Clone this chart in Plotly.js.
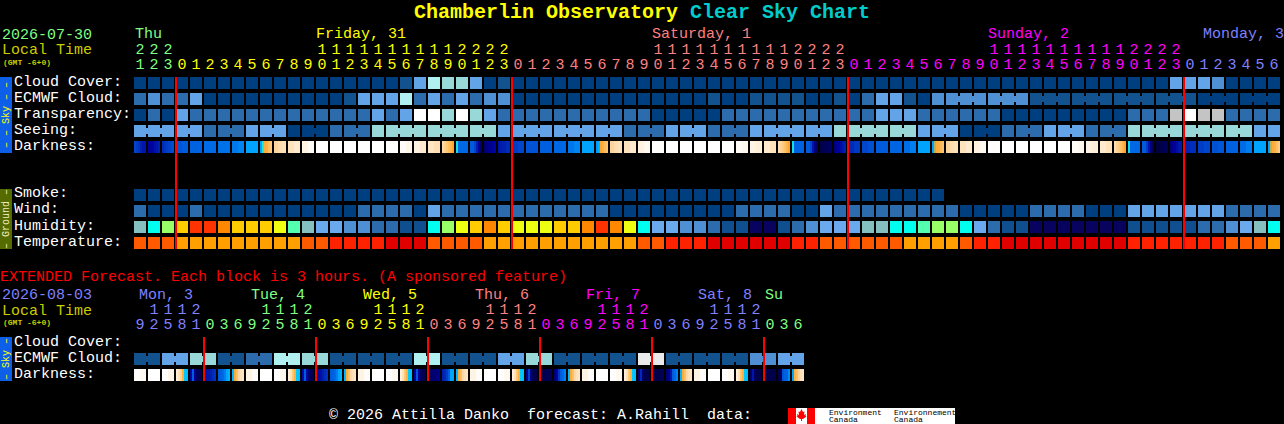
<!DOCTYPE html>
<html><head><meta charset="utf-8">
<script src="https://cdn.plot.ly/plotly-3.0.1.min.js"></script>
<style>html,body{margin:0;padding:0;background:#000;overflow:hidden}#chart{width:1284px;height:424px}</style>
</head><body><div id="chart"></div>
<script>
const FONT = '"Liberation Mono", monospace';

// ---------- main forecast (one block per hour) ----------
const hoursMain = [21,22,23,
  0,1,2,3,4,5,6,7,8,9,10,11,12,13,14,15,16,17,18,19,20,21,22,23,
  0,1,2,3,4,5,6,7,8,9,10,11,12,13,14,15,16,17,18,19,20,21,22,23,
  0,1,2,3,4,5,6,7,8,9,10,11,12,13,14,15,16,17,18,19,20,21,22,23,
  0,1,2,3,4,5,6];
const cloudCover = [
  0,0,0,0,0,0,0,0,0,0, 0,0,0,0,0,0,0,0,0,1, 4,6,5,5,4,0,1,0,0,0,
  0,0,0,0,0,0,0,0,0,0, 0,0,0,0,0,0,0,0,0,0, 0,0,0,0,0,0,0,0,0,0,
  0,0,0,0,0,0,0,0,0,0, 0,0,0,0,4,4,4,3,0,0, 0,0];
const ecmwfCloud = [
  2,3,2,2,4,0,0,0,0,0, 0,0,0,0,0,1,4,4,4,6, 2,4,2,4,2,3,3,0,0,0,
  0,0,0,0,0,0,0,0,0,0, 0,1,0,0,1,1,1,1,0,0, 1,0,2,4,4,1,0,3,3,3,
  3,3,3,3,1,1,1,1,1,1, 1,1,1,1,1,1,0,0,0,0, 0,0];
const transparency = [
  0,2,0,4,2,2,2,2,2,2, 2,2,2,2,2,2,2,4,2,4, 9,9,5,9,5,4,2,2,2,2,
  2,2,2,2,2,2,2,0,0,0, 0,0,2,2,2,2,2,2,2,2, 2,2,2,4,4,4,2,2,2,2,
  2,2,0,0,0,0,0,0,0,0, 0,2,2,2,7,9,7,7,2,2, 2,2];
const seeing = [
  4,4,4,4,4,2,2,2,4,4, 4,0,0,0,2,2,2,5,5,5, 5,5,5,5,5,5,4,4,4,4,
  4,4,4,4,4,2,2,2,4,4, 4,2,2,2,4,4,4,4,4,4, 5,5,5,5,5,5,4,4,4,0,
  0,0,2,2,2,4,4,4,2,2, 2,5,5,5,5,5,5,5,5,5, 4,4];
const smoke = [
  0,0,0,0,0,0,0,0,0,0, 0,0,0,0,0,0,0,0,0,0, 0,0,0,0,0,0,0,0,0,0,
  0,0,0,0,0,0,0,0,0,0, 0,0,0,0,0,0,0,0,0,0, 0,0,0,0,0,0,0,0];
const wind = [
  2,0,0,0,2,0,0,0,0,0, 0,0,0,0,0,0,2,2,2,2, 0,4,2,2,2,2,2,2,2,2,
  2,2,2,2,0,0,0,0,0,0, 0,0,0,2,2,2,2,0,0,4, 2,2,2,2,2,2,2,2,2,0,
  0,0,0,0,2,2,2,2,0,0, 0,4,4,4,4,4,4,4,2,2, 2,2];
const humidity = [
  5,6,8,10,12,12,11,10,10,10, 9,7,5,4,4,3,3,2,2,1, 1,6,8,9,10,11,10,9,9,9,
  10,10,11,12,11,9,6,4,4,3, 3,2,1,1,0,0,1,2,3,4, 4,4,5,5,6,6,7,8,8,6,
  4,2,1,1,0,0,0,0,0,0, 0,1,1,1,1,1,2,2,3,4, 5,6];
const temperature = [
  1,1,1,0,0,0,0,0,0,0, 0,0,1,1,2,2,2,2,3,3, 3,1,1,1,1,0,0,0,0,0,
  0,0,0,0,0,0,1,1,2,2, 2,3,3,3,3,3,3,2,2,1, 1,1,1,1,1,0,0,0,0,1,
  2,2,3,3,3,3,3,3,3,3, 3,2,2,2,2,2,2,2,1,1, 1,0];
// limiting magnitude; a cell holds 1, 2, 3 or 6 samples left to right
const darkness = [
  [4.2,4.4,4.6,5.0,5.2,5.2],[5.6,5.6,5.5,5.3,5.2,5.0],[4.8,4.6,4.4,4.3,4.2,4.0],[3.8,3.6],[3.4],[3.1],[2.9],[2.7,2.3],[1.0],
  [1.0,-0.3,-0.9,-1.0,-1.3,-1.5],[-1.8,-2,-2.2],[-2.3,-2.7],[-3.2,-3.7],[-4],[-4],[-4],[-4],[-4],[-4],[-3.8,-3.4],[-3.1,-2.7],[-2.5,-2.1],
  [-1.9,-1.7,-1.5,-1.3,-1.1,-0.8],[-0.2,3.2,3.2,3.2,3.2,3.2],[3.6,3.6,4.2,5,5.6,6.2],[6,5.9,5.8,5.7,5.6,5.5],[5.2,5.1,5,5,4.8,4.8],
  [4.4,4.2],[3.9],[3.5],[3.2],[2.8,2.3],[1.0],[1.5,0.6,-0.8,-1,-1.2,-1.4],[-1.8,-2,-2.2],[-2.3,-2.7],[-3.1,-3.5],[-3.9],[-4],[-4],[-4],[-4],[-4],
  [-3.8,-3.5],[-3.2,-2.9],[-2.7,-2.3],[-2,-1.8,-1.6,-1.4,-1.1,-0.8],[-0.2,3.4,3.4,3.4,3.4,3.4],[3.6,3.6,4.2,5.2,5.8,6.2],[6.4,6.4,6.3,6.3,6.2,6.2],[5.9,5.7,5.6,5.4,5.2,5],
  [4.8,4.5],[4.2,4.0],[3.6],[3.3],[3,2.5],[1.0],[1,-0.5,-0.9,-1,-1.2,-1.4],[-1.8,-2,-2.2],[-2.3,-2.7],[-3.1,-3.5],[-3.9],[-4],[-4],[-4],[-4],[-4],
  [-3.8,-3.5],[-3.2,-2.9],[-2.7,-2.3],[-2,-1.8,-1.6,-1.4,-1.1,-0.8],[-0.2,3.2,3.2,3.2,3.2,3.2],[3.6,3.6,4.4,5.2,5.8,6.3],[6.5,6.5,6.4,6.4,6.3,6.3],[6,5.8,5.6,5.4,5.2,5.1],
  [4.9,4.7],[4.4,4.2],[4,3.8],[3.4],[3.1,2.6],[1.0],[1,-0.5,-0.9,-1,-1.3,-1.6]];
const midnightsMain = [3,27,51,75];
const dayIndexMain = [0,0,0,
  1,1,1,1,1,1,1,1,1,1,1,1,1,1,1,1,1,1,1,1,1,1,1,1,
  2,2,2,2,2,2,2,2,2,2,2,2,2,2,2,2,2,2,2,2,2,2,2,2,
  3,3,3,3,3,3,3,3,3,3,3,3,3,3,3,3,3,3,3,3,3,3,3,3,
  4,4,4,4,4,4,4];
const dayColorsMain = ['#80ff80','#ffff00','#ff8080','#ff00ff','#8080ff'];
const dayLabelsMain = ['Thu','Friday, 31','Saturday, 1','Sunday, 2','Monday, 3'];
const dayLabelPxMain = [135,316,652,988,1203];

// ---------- extended forecast (one block per 3 hours) ----------
const hoursExt = [9,12,15,18,21,
  0,3,6,9,12,15,18,21, 0,3,6,9,12,15,18,21, 0,3,6,9,12,15,18,21,
  0,3,6,9,12,15,18,21, 0,3,6,9,12,15,18,21, 0,3,6];
const ecmwfExt = [1,1,4,4,5,5,1,1,2,2,6,6,5,5,1,1,1,1,1,1,6,6,1,1,1,1,4,4,5,5,1,1,1,1,1,1,8,8,1,1,1,1,1,1,3,3,4,4];
const darknessExt = [
  [-3.9,-3.6],[-4],[-4,-3.4],[-3,-2.3,-1.8,-1,0,0.2],[5.5,3.6,5.6,6.2,6.3,6.3],[5.4,5.2,5.2,5,4.8,4.6],[3.6,3.5,3.2,2.6,1,0.6],[0.5,-0.9,-1.3,-1.9,-2.2,-2.4],
  [-3.2,-3.8],[-4],[-4,-3.5],[-3,-2.2,-1.5,-1,0,0.2],[5.4,3.6,5.4,6,6.3,6.3],[5.6,5.4,5.3,5,4.8,4.6],[3.6,3.5,3.2,2.6,1,0.6],[0.5,-0.9,-1.3,-1.9,-2.2,-2.4],
  [-3.2,-3.8],[-4],[-4,-3.5],[-3,-2.2,-1.5,-1,0,0.2],[5.6,3.8,5.6,6.2,6.3,6.4],[6.2,6.2,6.1,6.0,5.9,5.8],[5,4.8,4.4,3.6,1,1],[0.5,-0.9,-1.3,-1.9,-2.2,-2.4],
  [-3.2,-3.8],[-4],[-4,-3.5],[-3,-2.2,-1.5,-1,0,0.2],[5.8,4.2,5.8,6.3,6.4,6.4],[6.4,6.4,6.4,6.3,6.3,6.3],[6,5.6,4.5,3.6,3.2,2.5],[0.5,-0.9,-1.3,-1.9,-2.2,-2.4],
  [-3.2,-3.8],[-4],[-4,-3.5],[-3,-2.2,-1.5,-1,0,0.2],[6,4.8,6,6.4,6.4,6.4],[6.4,6.4,6.4,6.4,6.3,6.3],[6,5.8,5.2,3.6,3.2,2.5],[0.5,-0.9,-1.3,-1.9,-2.2,-2.4],
  [-3.2,-3.8],[-4],[-4,-3.5],[-3,-2.2,-1.5,-1,0,0.2],[6.2,5.2,6.2,6.4,6.4,6.4],[6.4,6.4,6.4,6.4,6.4,6.4],[6.4,6.2,3.8,3.4,3.4,2],[1,-1,-1.3,-1.8,-2.2,-2.4]];
const midnightsExt = [5,13,21,29,37,45];
const dayIndexExt = [4,4,4,4,4,
  0,0,0,0,0,0,0,0, 1,1,1,1,1,1,1,1, 2,2,2,2,2,2,2,2, 3,3,3,3,3,3,3,3, 4,4,4,4,4,4,4,4, 0,0,0];
const dayColorsExt = ['#80ff80','#ffff00','#ff8080','#ff00ff','#8080ff'];
const dayLabelsExt = ['Mon, 3','Tue, 4','Wed, 5','Thu, 6','Fri, 7','Sat, 8','Su'];
const dayLabelPxExt = [139,251,363,475,586,698,765];
const dayLabelColorExt = ['#8080ff','#80ff80','#ffff00','#ff8080','#ff00ff','#8080ff','#80ff80'];

// ---------- palettes ----------
const skyPalette = ['#003f7f','#12528f','#2c6cad','#4f8fd3','#63a3e8','#99d8d8','#b0f0f0','#c4c4c4','#eaeaea','#ffffff'];
const humidityPalette = ['#08035f','#0f4f8f','#2c6cad','#4f8fd3','#6aa9ee','#85bfbf','#00ffee','#55ffb0','#99ff66','#eeff11','#ffcc00','#ff8800','#ff3300'];
const temperaturePalette = ['#ff9f00','#ff5a00','#ff2200','#e00000'];
const darknessStops = [[-4,'#ffffff'],[-3,'#fff0dc'],[-2,'#ffddb0'],[-1,'#ffb040'],[-0.6,'#ff9a20'],[-0.3,'#20e8d8'],[0,'#00c8ff'],[1,'#00a4ff'],[2.5,'#0080f0'],[3.2,'#0068e4'],[4,'#0050d4'],[5,'#0020b0'],[5.6,'#00009c'],[6.2,'#000060'],[6.5,'#000040']];

// ---------- page geometry: data units are blocks (x) and rows (y) ----------
const W = 1284, H = 424, X0 = 140, PX = 14, Y0 = 83, PY = 16;
const xOf = px => (px - X0) / PX;
const yOf = py => (py - Y0) / PY;
const EXT = 16.25;  // first extended row, in rows below the first row

const discrete = pal => { const n = pal.length, s = []; pal.forEach((c,k)=>{ s.push([k/n,c]); s.push([(k+1)/n,c]); }); return s; };
const traces = [];

function addRow(vals, row, pal) {
  traces.push({type:'heatmap', x:vals.map((_,i)=>i), y:[row], z:[vals], zmin:-0.5, zmax:pal.length-0.5,
    colorscale:discrete(pal), showscale:false, xgap:2, ygap:4, hoverinfo:'skip'});
}
function addDarkness(cells, row) {
  const x=[], z=[];
  cells.forEach((c,i)=>{
    const rep = 6/c.length;
    for (let k=0;k<6;k++){ x.push(i+(2*k-5)/14); z.push(c[Math.floor(k/rep)]); }
    x.push(i+0.5); z.push(null);
  });
  const lo=-4, hi=6.5;
  traces.push({type:'heatmap', x, y:[row], z:[z], zmin:lo, zmax:hi,
    colorscale:darknessStops.map(([m,c])=>[(m-lo)/(hi-lo),c]), showscale:false, ygap:4, hoverinfo:'skip'});
}
function addJoins(vals, row, pal, joined) {
  pal.forEach((c,lev)=>{
    const x=[], y=[];
    vals.forEach((v,i)=>{
      if (i+1<vals.length && v===lev && vals[i+1]===lev && joined(i)) { x.push(i+0.4,i+0.6,null); y.push(row,row,null); }
    });
    if (x.length) traces.push({type:'scatter', mode:'lines', x, y, line:{color:c,width:6}, hoverinfo:'skip'});
  });
}
addRow(cloudCover,0,skyPalette);
addRow(ecmwfCloud,1,skyPalette);
addRow(transparency,2,skyPalette);
addRow(seeing,3,skyPalette);
addDarkness(darkness,4);
addRow(smoke,7,skyPalette);
addRow(wind,8,skyPalette);
addRow(humidity,9,humidityPalette);
addRow(temperature,10,temperaturePalette);
addRow(ecmwfExt,EXT+1,skyPalette);
addDarkness(darknessExt,EXT+2);
addJoins(seeing,3,skyPalette,i=>(i+1)%3!==0);
addJoins(ecmwfCloud,1,skyPalette,i=>i>=58&&(i-58)%3!==2);
addJoins(ecmwfExt,EXT+1,skyPalette,i=>i%2===0);

function redLines(mids, y0, y1) {
  const x=[], y=[];
  mids.forEach(i=>{ const c=i-6/14; x.push(c,c,null); y.push(y0,y1,null); });
  traces.push({type:'scatter', mode:'lines', x, y, line:{color:'#ff0000',width:2}, hoverinfo:'skip'});
}
redLines(midnightsMain,-0.375,10.375);
redLines(midnightsExt,EXT-0.375,EXT+2.375);

function hourText(hours, colors, tensPy, unitsPy) {
  traces.push({type:'scatter', mode:'text', x:hours.map((_,i)=>i), y:hours.map(()=>yOf(unitsPy)),
    text:hours.map(h=>String(h%10)), textposition:'middle center',
    textfont:{family:FONT,size:15,color:colors}, hoverinfo:'skip'});
  const idx = hours.map((h,i)=>h>=10?i:-1).filter(i=>i>=0);
  traces.push({type:'scatter', mode:'text', x:idx, y:idx.map(()=>yOf(tensPy)),
    text:idx.map(i=>String(Math.floor(hours[i]/10))), textposition:'middle center',
    textfont:{family:FONT,size:15,color:idx.map(i=>colors[i])}, hoverinfo:'skip'});
}
hourText(hoursMain, dayIndexMain.map(d=>dayColorsMain[d]), 50, 65);
hourText(hoursExt, dayIndexExt.map(d=>dayColorsExt[d]), 310, 325);

// ---------- text ----------
const anns = [];
function txt(px, py, text, color, size, weight) {
  anns.push({xref:'paper', yref:'paper', x:(px-1)/W, y:1-py/H, text:text.replace(/  /g,' \u00a0'), showarrow:false, xanchor:'left', yanchor:'middle',
    borderpad:0, font:{family:FONT,size:size||15,color,weight:weight||400}});
}
txt(2,36,'2026-07-30','#80ff80');
txt(2,51,'Local Time','#cccc00');
txt(3,62,'(GMT -6+0)','#cccc00',8,700);
dayLabelsMain.forEach((t,k)=>txt(dayLabelPxMain[k],35,t,dayColorsMain[k]));
['Cloud Cover:','ECMWF Cloud:','Transparency:','Seeing:','Darkness:'].forEach((t,k)=>txt(14,82+16*k,t,'#ffffff'));
['Smoke:','Wind:','Humidity:','Temperature:'].forEach((t,k)=>txt(14,194+16*k,t,'#ffffff'));
txt(0,277,'EXTENDED Forecast. Each block is 3 hours. (A sponsored feature)','#ff0000');
txt(2,295,'2026-08-03','#8080ff');
txt(2,311,'Local Time','#cccc00');
txt(3,322,'(GMT -6+0)','#cccc00',8,700);
dayLabelsExt.forEach((t,k)=>txt(dayLabelPxExt[k],295,t,dayLabelColorExt[k]));
['Cloud Cover:','ECMWF Cloud:','Darkness:'].forEach((t,k)=>txt(14,342+16*k,t,'#ffffff'));
txt(329,415,'\u00a9 2026 Attilla Danko  forecast: A.Rahill  data:','#ffffff');
function sideTab(py0, py1, t, color) {
  anns.push({xref:'paper',yref:'paper',x:6/W,y:1-(py0+py1)/2/H,text:t,textangle:-90,showarrow:false,borderpad:0,
    xanchor:'center',yanchor:'middle',font:{family:FONT,size:10,color}});
}
sideTab(77,153,'\u2013 \u2013 Sky \u2013 \u2013','#ffff00');
sideTab(189,249,'\u2013 Ground \u2013','#f0f0c0');
sideTab(337,381,'\u2013 Sky \u2013','#ffff00');
txt(829,412,'Environment','#000000',8);
txt(829,419,'Canada','#000000',8);
txt(894,412,'Environnement','#000000',8);
txt(894,419,'Canada','#000000',8);

// ---------- tabs and logo panels ----------
const rect=(x0,y0,x1,y1,c)=>({type:'rect',xref:'paper',yref:'paper',x0:x0/W,x1:x1/W,y0:1-y0/H,y1:1-y1/H,fillcolor:c,line:{width:0},layer:'below'});
const leaf=[[801.5,409],[803,412],[804.5,411.5],[804,415],[806,414],[805.5,416],[806.5,416.5],[803,419],[802,419],[802,421],[801,421],[801,419],[800,419],[796.5,416.5],[797.5,416],[797,414],[799,415],[798.5,411.5],[800,412]];
const shapes=[
  rect(0,77,12,153,'#0d5fe8'), rect(0,189,12,249,'#556b00'), rect(0,337,12,381,'#0d5fe8'),
  rect(788,408,955,424,'#ffffff'), rect(788,408,796,424,'#ff0000'), rect(807,408,815,424,'#ff0000'),
  {type:'path',xref:'paper',yref:'paper',fillcolor:'#ff0000',line:{width:0},layer:'below',
   path:'M'+leaf.map(([a,b])=>(a/W)+','+(1-b/H)).join('L')+'Z'}
];

const layout = {
  width:W, height:H, margin:{l:0,r:0,t:0,b:0,pad:0}, paper_bgcolor:'#000000', plot_bgcolor:'#000000', showlegend:false,
  title:{text:'<b>Chamberlin Observatory <span style="color:#00cccc">Clear Sky Chart</span></b>',
    x:642/W, xanchor:'center', y:1-11/H, yanchor:'middle', font:{family:FONT,size:20,color:'#ffff00'}},
  xaxis:{visible:false, range:[xOf(0),xOf(W)], fixedrange:true, domain:[0,1]},
  yaxis:{visible:false, range:[yOf(H),yOf(0)], fixedrange:true, domain:[0,1]},
  annotations:anns, shapes
};
Plotly.newPlot('chart',traces,layout,{displayModeBar:false,staticPlot:true});
</script></body></html>
